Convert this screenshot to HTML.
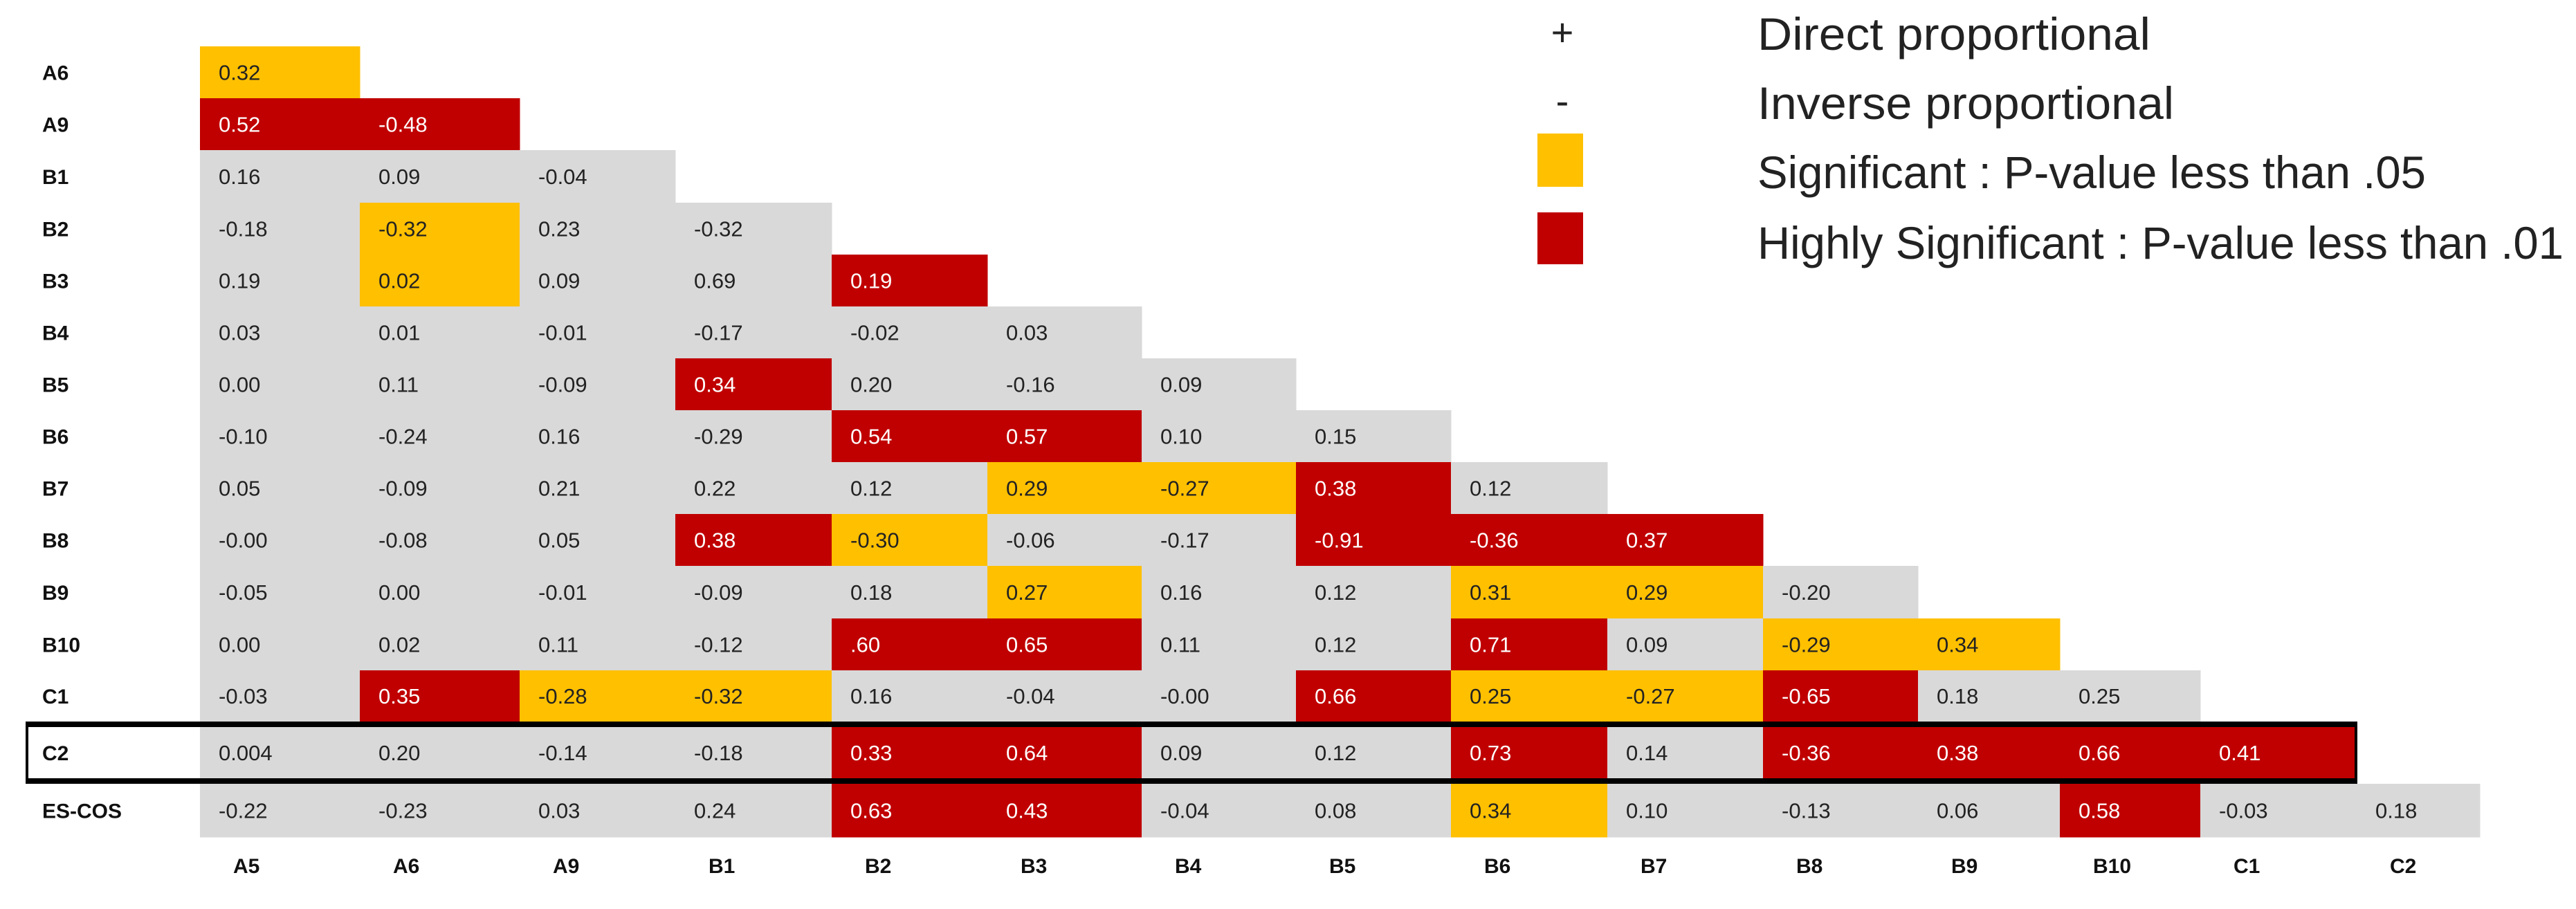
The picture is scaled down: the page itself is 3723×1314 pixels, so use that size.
<!DOCTYPE html>
<html><head><meta charset="utf-8"><style>
html,body{margin:0;padding:0;background:#fff;}
svg{display:block;}
</style></head><body>
<svg id="chart" width="3723" height="1314" xmlns="http://www.w3.org/2000/svg"></svg>
<script>
const rowLabels = ["A6","A9","B1","B2","B3","B4","B5","B6","B7","B8","B9","B10","C1","C2","ES-COS"];
const colLabels = ["A5","A6","A9","B1","B2","B3","B4","B5","B6","B7","B8","B9","B10","C1","C2"];
const cellValues = [
 ["0.32"],
 ["0.52","-0.48"],
 ["0.16","0.09","-0.04"],
 ["-0.18","-0.32","0.23","-0.32"],
 ["0.19","0.02","0.09","0.69","0.19"],
 ["0.03","0.01","-0.01","-0.17","-0.02","0.03"],
 ["0.00","0.11","-0.09","0.34","0.20","-0.16","0.09"],
 ["-0.10","-0.24","0.16","-0.29","0.54","0.57","0.10","0.15"],
 ["0.05","-0.09","0.21","0.22","0.12","0.29","-0.27","0.38","0.12"],
 ["-0.00","-0.08","0.05","0.38","-0.30","-0.06","-0.17","-0.91","-0.36","0.37"],
 ["-0.05","0.00","-0.01","-0.09","0.18","0.27","0.16","0.12","0.31","0.29","-0.20"],
 ["0.00","0.02","0.11","-0.12",".60","0.65","0.11","0.12","0.71","0.09","-0.29","0.34"],
 ["-0.03","0.35","-0.28","-0.32","0.16","-0.04","-0.00","0.66","0.25","-0.27","-0.65","0.18","0.25"],
 ["0.004","0.20","-0.14","-0.18","0.33","0.64","0.09","0.12","0.73","0.14","-0.36","0.38","0.66","0.41"],
 ["-0.22","-0.23","0.03","0.24","0.63","0.43","-0.04","0.08","0.34","0.10","-0.13","0.06","0.58","-0.03","0.18"]
];
// significance: 0 = none, 1 = p<.05, 2 = p<.01
const cellSignif = [
 [1],
 [2,2],
 [0,0,0],
 [0,1,0,0],
 [0,1,0,0,2],
 [0,0,0,0,0,0],
 [0,0,0,2,0,0,0],
 [0,0,0,0,2,2,0,0],
 [0,0,0,0,0,1,1,2,0],
 [0,0,0,2,1,0,0,2,2,2],
 [0,0,0,0,0,1,0,0,1,1,0],
 [0,0,0,0,2,2,0,0,2,0,1,1],
 [0,2,1,1,0,0,0,2,1,1,2,0,0],
 [0,0,0,0,2,2,0,0,2,0,2,2,2,2],
 [0,0,0,0,2,2,0,0,1,0,0,0,2,0,0]
];
const highlightRow = "C2";

(function(){
const NS="http://www.w3.org/2000/svg";
const svg=document.getElementById('chart');
const colEdges=[289,520,751,976,1202,1427,1650,1873,2097,2323,2548,2772,2977,3180,3406,3584];
const rowEdges=[67,142,217,293,368,443,518,593,668,743,818,894,969,1043,1133,1210];
const fills=["#D9D9D9","#FFC000","#C00000"];
function xPos(c){return colEdges[c];}
function yPos(r){return rowEdges[r];}
function mk(tag,attrs){const e=document.createElementNS(NS,tag);for(const k in attrs)e.setAttribute(k,attrs[k]);svg.appendChild(e);return e;}
const FONT='"Liberation Sans Narrow","Liberation Sans",sans-serif';

for(let r=0;r<cellValues.length;r++){
  for(let c=0;c<cellValues[r].length;c++){
    const s=cellSignif[r][c];
    const x0=xPos(c),x1=xPos(c+1),y0=yPos(r),y1=yPos(r+1);
    const rect=mk('rect',{x:x0,y:y0,width:x1-x0+0.5,height:y1-y0+0.5,fill:fills[s]});
    
    
    const t=mk('text',{x:x0+27,y:(y0+y1)/2+11,'font-family':FONT,'font-size':31,fill:s===2?'#ffffff':'#222222'});
    t.textContent=cellValues[r][c];
    
    
  }
  const lab=mk('text',{x:61,y:(yPos(r)+yPos(r+1))/2+11,'font-family':FONT,'font-size':30,'font-weight':'bold',fill:'#111'});
  lab.textContent=rowLabels[r];
  
  
}
for(let c=0;c<colLabels.length;c++){
  const t=mk('text',{x:xPos(c)+48,y:1262,'font-family':FONT,'font-size':30,'font-weight':'bold',fill:'#111'});
  t.textContent=colLabels[c];
  
  
}
const hr=rowLabels.indexOf(highlightRow);
const hy0=yPos(hr),hy1=yPos(hr+1);
const bx0=37,bx1=xPos(cellValues[hr].length);
const boxTop=mk('rect',{x:bx0,y:hy0,width:bx1-bx0,height:8,fill:'#000'});


const boxBot=mk('rect',{x:bx0,y:hy1-8,width:bx1-bx0,height:8,fill:'#000'});


const boxL=mk('rect',{x:bx0,y:hy0,width:4,height:hy1-hy0,fill:'#000'});


const boxR=mk('rect',{x:bx1-3,y:hy0,width:4,height:hy1-hy0,fill:'#000'});



// legend
const plus=mk('text',{x:2258,y:66,'font-family':FONT,'font-size':56,fill:'#222','text-anchor':'middle'});
plus.textContent='+';


const minus=mk('text',{x:2258,y:165,'font-family':FONT,'font-size':56,fill:'#222','text-anchor':'middle'});
minus.textContent='-';


const ys=mk('rect',{x:2222,y:193,width:66,height:77,fill:'#FFC000'});


const rs=mk('rect',{x:2222,y:307,width:66,height:75,fill:'#C00000'});


const items=[["Direct proportional",72,568],["Inverse proportional",172,602],["Significant : P-value less than .05",272,966],["Highly Significant : P-value less than .01",374,1165]];
const names=['legend-direct','legend-inverse','legend-significant','legend-highly-significant'];
items.forEach((it,i)=>{
  const t=mk('text',{x:2540,y:it[1],'font-family':FONT,'font-size':66,fill:'#222',textLength:it[2],lengthAdjust:'spacingAndGlyphs'});
  t.textContent=it[0];
  
  
});
})();
</script>
</body></html>
